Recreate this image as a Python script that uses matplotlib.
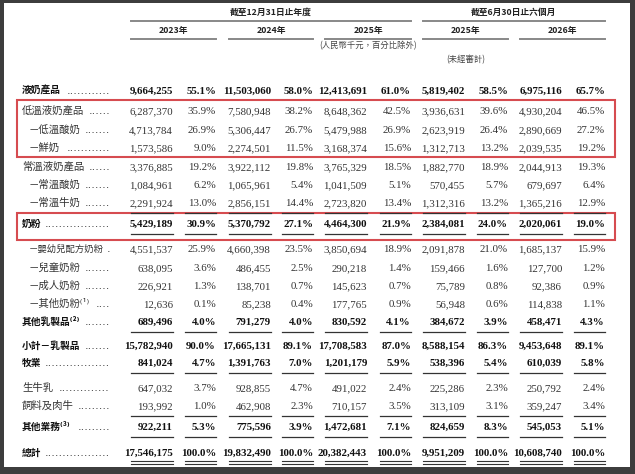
import matplotlib.pyplot as plt
import matplotlib.patches as patches

labels = ['液奶產品', '低溫液奶產品', '－低溫酸奶', '－鮮奶', '常溫液奶產品', '－常溫酸奶',
          '－常溫牛奶', '奶粉', '－嬰幼兒配方奶粉', '－兒童奶粉', '－成人奶粉', '－其他奶粉⁽¹⁾',
          '其他乳製品⁽²⁾', '小計－乳製品', '牧業', '生牛乳', '飼料及肉牛', '其他業務⁽³⁾', '總計']

rev_2023 = [9664255, 6287370, 4713784, 1573586, 3376885, 1084961, 2291924, 5429189, 4551537, 638095,
            226921, 12636, 689496, 15782940, 841024, 647032, 193992, 922211, 17546175]
pct_2023 = [55.1, 35.9, 26.9, 9.0, 19.2, 6.2, 13.0, 30.9, 25.9, 3.6, 1.3, 0.1, 4.0, 90.0, 4.7, 3.7,
            1.0, 5.3, 100.0]
rev_2024 = [11503060, 7580948, 5306447, 2274501, 3922112, 1065961, 2856151, 5370792, 4660398, 486455,
            138701, 85238, 791279, 17665131, 1391763, 928855, 462908, 775596, 19832490]
pct_2024 = [58.0, 38.2, 26.7, 11.5, 19.8, 5.4, 14.4, 27.1, 23.5, 2.5, 0.7, 0.4, 4.0, 89.1, 7.0, 4.7,
            2.3, 3.9, 100.0]
rev_2025 = [12413691, 8648362, 5479988, 3168374, 3765329, 1041509, 2723820, 4464300, 3850694, 290218,
            145623, 177765, 830592, 17708583, 1201179, 491022, 710157, 1472681, 20382443]
pct_2025 = [61.0, 42.5, 26.9, 15.6, 18.5, 5.1, 13.4, 21.9, 18.9, 1.4, 0.7, 0.9, 4.1, 87.0, 5.9, 2.4,
            3.5, 7.1, 100.0]
rev_h1_2025 = [5819402, 3936631, 2623919, 1312713, 1882770, 570455, 1312316, 2384081, 2091878, 159466,
               75789, 56948, 384672, 8588154, 538396, 225286, 313109, 824659, 9951209]
pct_h1_2025 = [58.5, 39.6, 26.4, 13.2, 18.9, 5.7, 13.2, 24.0, 21.0, 1.6, 0.8, 0.6, 3.9, 86.3, 5.4, 2.3,
               3.1, 8.3, 100.0]
rev_h1_2026 = [6975116, 4930204, 2890669, 2039535, 2044913, 679697, 1365216, 2020061, 1685137, 127700,
               92386, 114838, 458471, 9453648, 610039, 250792, 359247, 545053, 10608740]
pct_h1_2026 = [65.7, 46.5, 27.2, 19.2, 19.3, 6.4, 12.9, 19.0, 15.9, 1.2, 0.9, 1.1, 4.3, 89.1, 5.8, 2.4,
               3.4, 5.1, 100.0]

bold_rows = [0, 7, 12, 13, 14, 17, 18]
highlight_rows = [(1, 3), (7, 7)]

group_titles = ['截至12月31日止年度', '截至6月30日止六個月']
year_labels = ['2023年', '2024年', '2025年', '2025年', '2026年']
notes = ['(人民幣千元，百分比除外)', '(未經審計)']

revenues = [rev_2023, rev_2024, rev_2025, rev_h1_2025, rev_h1_2026]
shares = [pct_2023, pct_2024, pct_2025, pct_h1_2025, pct_h1_2026]

# layout, in pixels of the 635x474 picture
row_y = [90, 110, 129, 147, 166, 184, 202, 223, 248, 267, 285, 303, 321, 345, 362, 387, 405, 426, 452]
num_right = [173, 271, 367, 465, 562]
pct_right = [216, 313, 411, 508, 605]
ruled_rows = [6, 7, 12, 14, 16, 17]

CJK = ['Noto Sans CJK TC', 'DejaVu Sans']
NUM = 'Liberation Serif'

fig = plt.figure(figsize=(6.35, 4.74), dpi=100, facecolor='#3d3d3d')
ax = fig.add_axes([0, 0, 1, 1])
ax.set_xlim(0, 635)
ax.set_ylim(474, 0)
ax.axis('off')

ax.add_patch(patches.Rectangle((4, 3), 626, 464, facecolor='white', edgecolor='none'))

""" Header """
ax.text((num_right[0] - 42 + pct_right[2]) / 2, 12, group_titles[0], ha='center', va='center',
        fontsize=6.3, fontweight='bold', family=CJK, color='#222')
ax.text((num_right[3] - 42 + pct_right[4]) / 2, 12, group_titles[1], ha='center', va='center',
        fontsize=6.3, fontweight='bold', family=CJK, color='#222')
ax.plot([num_right[0] - 42, pct_right[2]], [21, 21], color='#888', lw=1.4)
ax.plot([num_right[3] - 42, pct_right[4]], [21, 21], color='#888', lw=1.4)

for i, year in enumerate(year_labels):
    left = num_right[i] - 42
    ax.text((left + pct_right[i]) / 2, 30, year, ha='center', va='center',
            fontsize=6.3, fontweight='bold', family=CJK, color='#222')
    ax.plot([left, pct_right[i]], [39, 39], color='#888', lw=1.4)

ax.text((num_right[2] - 42 + pct_right[2]) / 2, 46, notes[0], ha='center', va='center',
        fontsize=6, style='italic', family=CJK, color='#444')
ax.text((num_right[3] - 42 + pct_right[3]) / 2, 60, notes[1], ha='center', va='center',
        fontsize=6, style='italic', family=CJK, color='#444')

""" Rows """
for r, label in enumerate(labels):
    y = row_y[r]
    bold = r in bold_rows
    weight = 'bold' if bold else 'normal'
    color = '#111' if bold else '#333'
    x0 = 29 if label.startswith('－') else 22

    # shrink long labels so the leader still fits before x=110
    n_em = sum(0.35 if ch in '⁽⁾¹²³' else 1.0 for ch in label)
    size = 7 if bold else 7.5
    size = min(size, (104 - x0) / n_em * 72 / 100)
    ax.text(x0, y + 4, label, ha='left', va='baseline', fontsize=size, fontweight=weight,
            family=CJK, color=color)

    # dot leader after the label
    end = x0 + n_em * size * 100 / 72
    n_dots = max(1, int((110 - end - 3) / 3.6))
    ax.text(110, y + 4, '.' * n_dots, ha='right', va='baseline', fontsize=8,
            family='DejaVu Sans', color='#333')

    for c in range(5):
        ax.text(num_right[c], y + 4, f"{revenues[c][r]:,}", ha='right', va='baseline',
                fontsize=7.8, fontweight=weight, family=NUM, color=color)
        ax.text(pct_right[c], y + 4, f"{shares[c][r]:.1f}%", ha='right', va='baseline',
                fontsize=7.8, fontweight=weight, family=NUM, color=color)

""" Column rules """
for r in ruled_rows:
    y = row_y[r] + 11
    for c in range(5):
        ax.plot([num_right[c] - 42, num_right[c]], [y, y], color='#333', lw=0.9)
        ax.plot([pct_right[c] - 31, pct_right[c]], [y, y], color='#333', lw=0.9)

# double rule under the total
for y in (row_y[-1] + 9, row_y[-1] + 12):
    for c in range(5):
        ax.plot([num_right[c] - 42, num_right[c]], [y, y], color='#333', lw=0.8)
        ax.plot([pct_right[c] - 31, pct_right[c]], [y, y], color='#333', lw=0.8)

""" Highlight boxes """
for first, last in highlight_rows:
    top = row_y[first] - 10
    bottom = row_y[last] + 10 + (7 if first == last else 0)
    ax.add_patch(patches.Rectangle((17, top), 598, bottom - top, facecolor='none',
                                   edgecolor='#d64c50', lw=1.5))

fig.savefig('out.png', dpi=100, facecolor=fig.get_facecolor())
